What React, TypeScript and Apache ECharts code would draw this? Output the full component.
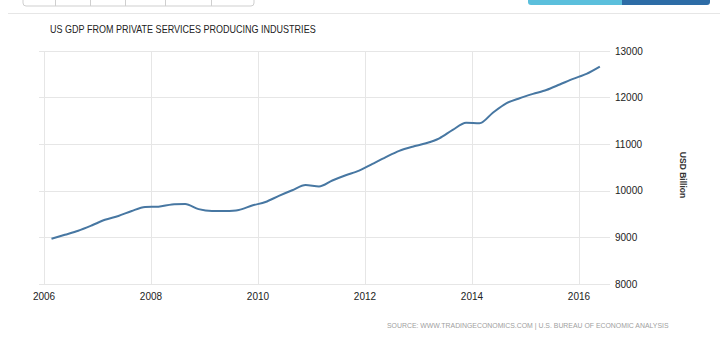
import React, { useEffect, useRef } from 'react';
import * as echarts from 'echarts';

// Quarterly US GDP from private services producing industries (USD Billion), 2006 Q1 – 2016 Q2
const startYear = 2006;
const values = [
  8970, 9056, 9144, 9256, 9378, 9459, 9567, 9652, 9659, 9708, 9717, 9607,
  9567, 9567, 9588, 9684, 9760, 9891, 10011, 10124, 10092, 10221, 10333, 10433,
  10579, 10723, 10856, 10946, 11019, 11127, 11307, 11461, 11448, 11676, 11878, 11987,
  12079, 12163, 12281, 12403, 12511, 12667,
];
const yearTicks = [2006, 2008, 2010, 2012, 2014, 2016];
const yMin = 8000;
const yMax = 13000;
const yStep = 1000;

const titleText = 'US GDP FROM PRIVATE SERVICES PRODUCING INDUSTRIES';
const unitText = 'USD Billion';
const sourceText = 'SOURCE: WWW.TRADINGECONOMICS.COM | U.S. BUREAU OF ECONOMIC ANALYSIS';

export default function App() {
  const ref = useRef<HTMLDivElement>(null);
  useEffect(() => {
    if (!ref.current) return;
    const chart = echarts.init(ref.current, null, { renderer: 'svg' });
    const data = values.map((v, i) => [startYear + i * 0.25 + 0.14, v]);
    const font = 'Liberation Sans, Arial, sans-serif';
    chart.setOption({
      animation: false,
      backgroundColor: '#ffffff',
      grid: { left: 39, right: 110, top: 51, bottom: 53, containLabel: false },
      xAxis: {
        type: 'value',
        min: 2005.9065,
        max: 2016.58,
        axisLine: { show: false },
        axisTick: { show: false, customValues: yearTicks },
        axisLabel: {
          customValues: yearTicks,
          formatter: (v: number) => String(v),
          color: '#222',
          fontSize: 10,
          fontFamily: font,
          margin: 7,
        },
        splitLine: { show: true, lineStyle: { color: '#e6e6e6', width: 1 } },
      },
      yAxis: {
        type: 'value',
        position: 'right',
        min: yMin,
        max: yMax,
        interval: yStep,
        axisLine: { show: false },
        axisTick: { show: false },
        axisLabel: {
          formatter: (v: number) => String(v),
          color: '#222',
          fontSize: 10,
          fontFamily: font,
          margin: 5,
        },
        splitLine: { show: true, lineStyle: { color: '#e6e6e6', width: 1 } },
      },
      series: [
        {
          type: 'line',
          data,
          smooth: 0.3,
          symbol: 'none',
          lineStyle: { color: '#4777a2', width: 2 },
        },
      ],
      graphic: [
        { type: 'rect', shape: { x: 23, y: -4, width: 231, height: 10, r: 3 }, style: { fill: '#fff', stroke: '#cfcfcf', lineWidth: 1 } },
        { type: 'line', shape: { x1: 55.5, y1: 0, x2: 55.5, y2: 6 }, style: { stroke: '#cfcfcf' } },
        { type: 'line', shape: { x1: 90.5, y1: 0, x2: 90.5, y2: 6 }, style: { stroke: '#cfcfcf' } },
        { type: 'line', shape: { x1: 125.5, y1: 0, x2: 125.5, y2: 6 }, style: { stroke: '#cfcfcf' } },
        { type: 'line', shape: { x1: 165.5, y1: 0, x2: 165.5, y2: 6 }, style: { stroke: '#cfcfcf' } },
        { type: 'line', shape: { x1: 211.5, y1: 0, x2: 211.5, y2: 6 }, style: { stroke: '#cfcfcf' } },
        { type: 'rect', shape: { x: 528, y: -4, width: 100, height: 9, r: 3 }, style: { fill: '#5bbfdc' } },
        { type: 'rect', shape: { x: 622, y: -4, width: 88, height: 9, r: 3 }, style: { fill: '#2d6ca6' } },
        { type: 'rect', shape: { x: 622, y: -4, width: 6, height: 9 }, style: { fill: '#2d6ca6' } },
        { type: 'line', shape: { x1: 8, y1: 13.5, x2: 720, y2: 13.5 }, style: { stroke: '#e6e6e6', lineWidth: 1 } },
        {
          type: 'text', x: 50, y: 29, scaleX: 0.82,
          style: { text: titleText, fill: '#222', font: '11px "Liberation Sans", Arial, sans-serif', textVerticalAlign: 'middle' },
        },
        {
          type: 'text', x: 683, y: 175, rotation: -Math.PI / 2,
          style: { text: unitText, fill: '#333', font: 'bold 8.5px "Liberation Sans", Arial, sans-serif', textAlign: 'center', textVerticalAlign: 'middle' },
        },
        {
          type: 'text', x: 387, y: 325,
          style: { text: sourceText, fill: '#a0a0a0', font: '6.9px "Liberation Sans", Arial, sans-serif', textVerticalAlign: 'middle' },
        },
      ],
    });
    return () => chart.dispose();
  }, []);
  return <div ref={ref} style={{ width: 720, height: 337, position: 'absolute', left: 0, top: 0 }} />;
}
